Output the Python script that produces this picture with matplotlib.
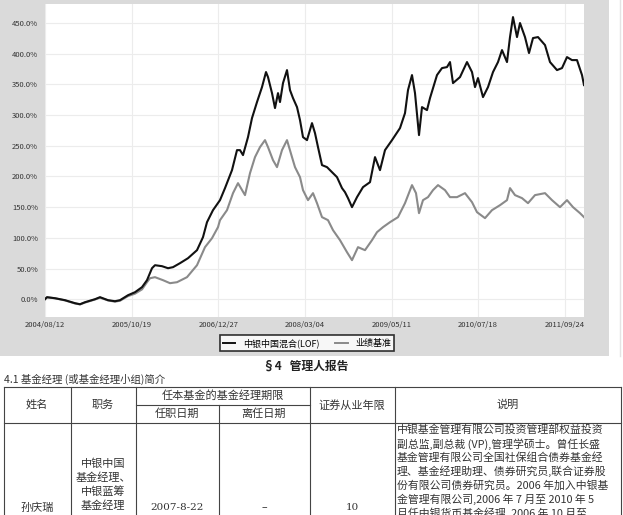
import matplotlib
matplotlib.use('Agg')
import matplotlib.pyplot as plt
from matplotlib.lines import Line2D
from matplotlib.patches import Rectangle
import pandas as pd

plt.rcParams['font.family'] = ['Noto Sans CJK SC', 'DejaVu Sans']

# ---------------- data ----------------
inception = '2004-08-12'
end_day = 2695

fund_days = [0, 10, 50, 100, 150, 175, 200, 250, 275, 315, 350, 375, 415, 450, 485,
             510, 535, 550, 585, 615, 640, 675, 715, 760, 790, 810, 840, 875, 900, 935,
             960, 975, 990, 1015, 1035, 1060, 1085, 1105, 1115, 1135, 1150, 1165, 1175,
             1190, 1210, 1225, 1240, 1260, 1275, 1290, 1310, 1335, 1350, 1365, 1385, 1410,
             1435, 1460, 1485, 1500, 1515, 1535, 1560, 1590, 1625, 1650, 1675, 1700, 1735,
             1775, 1800, 1815, 1835, 1850, 1870, 1885, 1910, 1925, 1960, 1985, 2010, 2025,
             2040, 2075, 2110, 2135, 2150, 2165, 2190, 2215, 2240, 2265, 2285, 2310, 2325,
             2340, 2360, 2375, 2400, 2420, 2440, 2465, 2500, 2525, 2560, 2585, 2610, 2635,
             2660, 2685, 2695]
fund_return = [0.0, 3.3, 1.6, -1.6, -6.5, -8.2, -4.9, 0.0, 3.3, -1.6, -3.3, -1.6, 6.5, 11.4, 19.6,
               31.0, 50.5, 55.4, 53.8, 50.5, 52.2, 58.7, 66.8, 79.9, 101.1, 125.5, 145.1, 161.4, 181.0, 210.3,
               242.9, 242.9, 234.8, 264.1, 295.1, 321.2, 345.6, 370.1, 361.9, 335.8, 311.4, 335.8, 321.2,
               352.1, 373.3, 340.7, 327.7, 313.0, 291.8, 264.1, 259.2, 286.9, 270.6, 247.8, 218.5, 215.2,
               207.0, 198.9, 181.0, 174.4, 164.7, 150.0, 166.3, 182.6, 190.7, 231.5, 210.3, 242.9, 259.2,
               278.8, 303.2, 340.7, 365.2, 335.8, 267.4, 313.0, 308.1, 327.7, 365.2, 376.6, 378.2, 386.4,
               352.1, 361.9, 386.4, 370.1, 345.6, 360.3, 329.3, 345.6, 370.1, 386.4, 405.9, 386.4, 427.1,
               459.7, 427.1, 450.0, 427.1, 401.1, 425.5, 427.1, 414.1, 386.4, 373.3, 376.6, 394.5, 389.6,
               389.6, 365.2, 348.9]

bench_days = [0, 10, 50, 100, 150, 175, 200, 250, 275, 315, 350, 375, 415, 450, 485,
              510, 525, 550, 590, 625, 660, 710, 760, 800, 835, 865, 875, 910, 940, 965,
              1000, 1025, 1050, 1075, 1100, 1115, 1140, 1160, 1185, 1210, 1235, 1250, 1275,
              1290, 1315, 1340, 1360, 1385, 1415, 1440, 1475, 1510, 1535, 1565, 1600, 1635,
              1660, 1690, 1725, 1765, 1800, 1835, 1855, 1870, 1890, 1915, 1940, 1965, 2000,
              2025, 2060, 2100, 2135, 2160, 2200, 2235, 2275, 2310, 2325, 2350, 2385, 2415,
              2450, 2500, 2535, 2575, 2610, 2640, 2675, 2695]
bench_return = [0.0, 3.0, 1.5, -2.0, -7.0, -8.5, -5.5, -0.5, 2.5, -2.0, -4.0, -2.5, 5.0, 9.0, 16.0,
                27.7, 34.2, 35.9, 31.0, 26.1, 27.7, 35.9, 55.4, 84.8, 99.4, 117.4, 128.8, 145.1, 172.8, 189.1,
                169.6, 205.4, 231.5, 247.8, 259.2, 247.8, 226.6, 215.2, 242.9, 259.2, 231.5, 215.2, 198.9,
                177.7, 161.4, 172.8, 156.5, 133.7, 128.8, 112.5, 96.2, 76.6, 63.6, 84.8, 79.9, 96.2,
                109.2, 117.4, 125.5, 133.7, 156.5, 185.9, 172.8, 140.2, 161.4, 166.3, 177.7, 185.9, 177.7,
                166.3, 166.3, 172.8, 158.1, 141.8, 132.1, 145.1, 153.2, 161.4, 181.0, 169.6, 164.7, 156.5,
                169.6, 172.8, 161.4, 150.0, 161.4, 150.0, 140.2, 133.7]

y_ticks = [0, 50, 100, 150, 200, 250, 300, 350, 400, 450]
y_tick_labels = ['0.0%', '50.0%', '100.0%', '150.0%', '200.0%', '250.0%',
                 '300.0%', '350.0%', '400.0%', '450.0%']
x_tick_dates = ['2004-08-12', '2005-10-19', '2006-12-27', '2008-03-04',
                '2009-05-11', '2010-07-18', '2011-09-24']
x_tick_labels = ['2004/08/12', '2005/10/19', '2006/12/27', '2008/03/04',
                 '2009/05/11', '2010/07/18', '2011/09/24']
legend_labels = ['中银中国混合(LOF)', '业绩基准']

# ---------------- figure ----------------
W, H = 623, 515
fig = plt.figure(figsize=(W / 100, H / 100), dpi=100)
fig.patch.set_facecolor('white')

# page overlay (pixel coordinates) for background panel and table
page = fig.add_axes([0, 0, 1, 1])
page.set_xlim(0, W)
page.set_ylim(H, 0)
page.axis('off')
page.set_zorder(0)
page.add_patch(Rectangle((0, 0), 609, 356, facecolor='#dadada', edgecolor='none'))
page.plot([620, 620], [0, 356], color='#e4e4e4', lw=1)

# chart axes
x0, x1, yt, yb = 45, 584, 4, 317
ax = fig.add_axes([x0 / W, 1 - yb / H, (x1 - x0) / W, (yb - yt) / H])
ax.set_zorder(1)
ax.set_facecolor('white')

start = pd.Timestamp(inception)
fund_dates = start + pd.to_timedelta(fund_days, unit='D')
bench_dates = start + pd.to_timedelta(bench_days, unit='D')

ax.plot(bench_dates, bench_return, color='#8a8a8a', lw=1.5, zorder=3)
ax.plot(fund_dates, fund_return, color='#111111', lw=1.5, zorder=4)

ax.set_xlim(start, start + pd.Timedelta(days=end_day))
ax.set_ylim(-29, 481)
ax.set_yticks(y_ticks)
ax.set_yticklabels(y_tick_labels)
ax.set_xticks(pd.to_datetime(x_tick_dates))
ax.set_xticklabels(x_tick_labels)
ax.tick_params(axis='both', length=0, labelsize=5.5, labelcolor='#333333')
ax.tick_params(axis='x', pad=3)
ax.tick_params(axis='y', pad=5)
ax.grid(True, color='#ececec', lw=0.8)
ax.set_axisbelow(True)
for s in ax.spines.values():
    s.set_visible(False)

handles = [Line2D([], [], color='#111111', lw=1.4), Line2D([], [], color='#8a8a8a', lw=1.4)]
leg = fig.legend(handles, legend_labels, loc='center', ncol=2,
                 bbox_to_anchor=(307 / W, 1 - 343 / H), fontsize=6.5,
                 frameon=True, fancybox=False, edgecolor='black',
                 handlelength=1.4, columnspacing=1.8, borderpad=0.35)
leg.get_frame().set_linewidth(1.2)
leg.get_frame().set_facecolor('white')
leg.set_zorder(5)

# ---------------- text below the chart ----------------
tc = '#333333'
page.text(306, 366, '§4   管理人报告', ha='center', va='center', fontsize=8.5,
          fontweight='bold', color='#222222')
page.text(4, 379, '4.1 基金经理 (或基金经理小组)简介', ha='left', va='center',
          fontsize=7.5, color=tc)

# table grid
lc = '#444444'
top, mid, hb = 387, 405, 423
for xv in [4, 71, 136, 219, 310, 395, 621]:
    y_from = mid if xv == 219 else top
    page.plot([xv, xv], [y_from, H + 5], color=lc, lw=0.8, clip_on=False)
page.plot([4, 621], [top, top], color=lc, lw=0.8)
page.plot([136, 310], [mid, mid], color=lc, lw=0.8)
page.plot([4, 621], [hb, hb], color=lc, lw=0.8)

fs = 8.0
page.text(37, 405, '姓名', ha='center', va='center', fontsize=fs, color=tc)
page.text(103, 405, '职务', ha='center', va='center', fontsize=fs, color=tc)
page.text(223, 396, '任本基金的基金经理期限', ha='center', va='center', fontsize=fs, color=tc)
page.text(177, 414, '任职日期', ha='center', va='center', fontsize=fs, color=tc)
page.text(264, 414, '离任日期', ha='center', va='center', fontsize=fs, color=tc)
page.text(352, 405, '证券从业年限', ha='center', va='center', fontsize=fs, color=tc)
page.text(508, 405, '说明', ha='center', va='center', fontsize=fs, color=tc)

page.text(37, 508, '孙庆瑞', ha='center', va='center', fontsize=fs, color=tc)
for yy, t in zip([464, 478, 492, 506], ['中银中国', '基金经理、', '中银蓝筹', '基金经理']):
    page.text(103, yy, t, ha='center', va='center', fontsize=fs, color=tc)
page.text(177, 508, '2007-8-22', ha='center', va='center', fontsize=7.5, color=tc,
          family=['DejaVu Serif'])
page.text(264, 508, '–', ha='center', va='center', fontsize=7.5, color=tc)
page.text(352, 508, '10', ha='center', va='center', fontsize=7.5, color=tc,
          family=['DejaVu Serif'])

desc = ['中银基金管理有限公司投资管理部权益投资',
        '副总监,副总裁 (VP),管理学硕士。曾任长盛',
        '基金管理有限公司全国社保组合债券基金经',
        '理、基金经理助理、债券研究员,联合证券股',
        '份有限公司债券研究员。2006 年加入中银基',
        '金管理有限公司,2006 年 7 月至 2010 年 5',
        '月任中银货币基金经理, 2006 年 10 月至']
for i, t in enumerate(desc):
    page.text(397, 430 + i * 13.8, t, ha='left', va='center', fontsize=7.8, color=tc)

fig.savefig('out.png', dpi=100)
